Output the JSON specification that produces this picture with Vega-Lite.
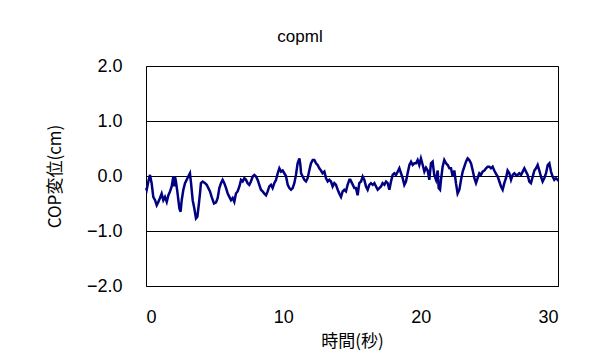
{
  "$schema": "https://vega.github.io/schema/vega-lite/v6.json",
  "width": 412,
  "height": 220,
  "autosize": {"type": "none"},
  "padding": {"left": 146, "top": 66, "right": 37, "bottom": 67},
  "background": "white",
  "title": {"text": "copml", "fontSize": 17, "font": "Liberation Sans", "fontWeight": "normal", "color": "black", "dx": -52, "offset": 11},
  "config": {"view": {"stroke": "black", "strokeWidth": 1}, "font": "Liberation Sans"},
  "data": {"values": [
    {"t": 0.00, "v": -0.22}, {"t": 0.05, "v": -0.25}, {"t": 0.17, "v": -0.10}, {"t": 0.29, "v": 0.02}, {"t": 0.41, "v": -0.13},
    {"t": 0.53, "v": -0.38}, {"t": 0.66, "v": -0.44}, {"t": 0.78, "v": -0.53}, {"t": 0.90, "v": -0.47}, {"t": 1.02, "v": -0.40},
    {"t": 1.14, "v": -0.32}, {"t": 1.26, "v": -0.44}, {"t": 1.38, "v": -0.38}, {"t": 1.51, "v": -0.47}, {"t": 1.63, "v": -0.35},
    {"t": 1.75, "v": -0.28}, {"t": 1.87, "v": -0.19}, {"t": 1.99, "v": -0.01}, {"t": 2.06, "v": -0.19}, {"t": 2.11, "v": -0.01},
    {"t": 2.18, "v": -0.10}, {"t": 2.28, "v": -0.28}, {"t": 2.43, "v": -0.59}, {"t": 2.52, "v": -0.65}, {"t": 2.60, "v": -0.44},
    {"t": 2.72, "v": -0.25}, {"t": 2.84, "v": -0.13}, {"t": 2.96, "v": -0.07}, {"t": 3.08, "v": -0.01}, {"t": 3.20, "v": 0.05},
    {"t": 3.28, "v": -0.13}, {"t": 3.40, "v": -0.44}, {"t": 3.52, "v": -0.59}, {"t": 3.64, "v": -0.77}, {"t": 3.74, "v": -0.74},
    {"t": 3.84, "v": -0.53}, {"t": 3.93, "v": -0.32}, {"t": 4.00, "v": -0.13}, {"t": 4.13, "v": -0.10}, {"t": 4.30, "v": -0.13},
    {"t": 4.42, "v": -0.16}, {"t": 4.54, "v": -0.22}, {"t": 4.66, "v": -0.28}, {"t": 4.78, "v": -0.38}, {"t": 4.95, "v": -0.50},
    {"t": 5.10, "v": -0.48}, {"t": 5.22, "v": -0.40}, {"t": 5.34, "v": -0.22}, {"t": 5.46, "v": -0.13}, {"t": 5.58, "v": -0.07},
    {"t": 5.70, "v": -0.13}, {"t": 5.83, "v": -0.22}, {"t": 5.95, "v": -0.32}, {"t": 6.07, "v": -0.38}, {"t": 6.19, "v": -0.44},
    {"t": 6.31, "v": -0.40}, {"t": 6.43, "v": -0.47}, {"t": 6.55, "v": -0.32}, {"t": 6.67, "v": -0.28}, {"t": 6.80, "v": -0.19},
    {"t": 6.92, "v": -0.07}, {"t": 7.04, "v": -0.10}, {"t": 7.16, "v": -0.04}, {"t": 7.28, "v": -0.07}, {"t": 7.40, "v": -0.13},
    {"t": 7.52, "v": -0.16}, {"t": 7.64, "v": -0.10}, {"t": 7.77, "v": -0.01}, {"t": 7.89, "v": 0.02}, {"t": 8.01, "v": -0.01},
    {"t": 8.13, "v": -0.07}, {"t": 8.25, "v": -0.16}, {"t": 8.37, "v": -0.25}, {"t": 8.49, "v": -0.28}, {"t": 8.62, "v": -0.32},
    {"t": 8.74, "v": -0.35}, {"t": 8.86, "v": -0.28}, {"t": 8.98, "v": -0.19}, {"t": 9.10, "v": -0.16}, {"t": 9.22, "v": -0.22},
    {"t": 9.34, "v": -0.13}, {"t": 9.47, "v": -0.07}, {"t": 9.59, "v": 0.05}, {"t": 9.71, "v": 0.14}, {"t": 9.83, "v": 0.08},
    {"t": 9.95, "v": 0.10}, {"t": 10.07, "v": 0.05}, {"t": 10.19, "v": 0.00}, {"t": 10.32, "v": -0.16}, {"t": 10.44, "v": -0.22},
    {"t": 10.56, "v": -0.25}, {"t": 10.68, "v": -0.22}, {"t": 10.80, "v": -0.13}, {"t": 10.92, "v": 0.02}, {"t": 11.04, "v": 0.23},
    {"t": 11.17, "v": 0.32}, {"t": 11.24, "v": 0.20}, {"t": 11.29, "v": 0.05}, {"t": 11.41, "v": -0.01}, {"t": 11.53, "v": -0.07},
    {"t": 11.65, "v": -0.10}, {"t": 11.77, "v": -0.04}, {"t": 11.89, "v": 0.10}, {"t": 12.01, "v": 0.23}, {"t": 12.14, "v": 0.29},
    {"t": 12.26, "v": 0.29}, {"t": 12.38, "v": 0.23}, {"t": 12.50, "v": 0.20}, {"t": 12.62, "v": 0.14}, {"t": 12.74, "v": 0.10},
    {"t": 12.86, "v": 0.05}, {"t": 12.99, "v": 0.08}, {"t": 13.11, "v": -0.04}, {"t": 13.23, "v": -0.10}, {"t": 13.35, "v": -0.07},
    {"t": 13.47, "v": -0.10}, {"t": 13.59, "v": -0.19}, {"t": 13.71, "v": -0.13}, {"t": 13.83, "v": -0.16}, {"t": 13.96, "v": -0.25},
    {"t": 14.08, "v": -0.32}, {"t": 14.20, "v": -0.38}, {"t": 14.32, "v": -0.28}, {"t": 14.44, "v": -0.25}, {"t": 14.56, "v": -0.28},
    {"t": 14.68, "v": -0.16}, {"t": 14.81, "v": -0.07}, {"t": 14.88, "v": -0.07}, {"t": 15.00, "v": -0.13}, {"t": 15.17, "v": -0.22},
    {"t": 15.29, "v": -0.22}, {"t": 15.41, "v": -0.35}, {"t": 15.53, "v": -0.13}, {"t": 15.66, "v": -0.10}, {"t": 15.78, "v": -0.01},
    {"t": 15.90, "v": -0.07}, {"t": 16.02, "v": -0.19}, {"t": 16.14, "v": -0.25}, {"t": 16.26, "v": -0.16}, {"t": 16.38, "v": -0.13},
    {"t": 16.51, "v": -0.16}, {"t": 16.63, "v": -0.13}, {"t": 16.75, "v": -0.19}, {"t": 16.87, "v": -0.25}, {"t": 16.99, "v": -0.22},
    {"t": 17.11, "v": -0.19}, {"t": 17.23, "v": -0.13}, {"t": 17.36, "v": -0.16}, {"t": 17.48, "v": -0.10}, {"t": 17.60, "v": -0.13},
    {"t": 17.72, "v": -0.25}, {"t": 17.84, "v": -0.10}, {"t": 17.96, "v": 0.02}, {"t": 18.08, "v": 0.05}, {"t": 18.20, "v": 0.02},
    {"t": 18.33, "v": 0.08}, {"t": 18.45, "v": 0.14}, {"t": 18.57, "v": 0.05}, {"t": 18.69, "v": -0.04}, {"t": 18.81, "v": -0.16},
    {"t": 18.93, "v": -0.10}, {"t": 19.05, "v": 0.05}, {"t": 19.18, "v": 0.20}, {"t": 19.30, "v": 0.26}, {"t": 19.42, "v": 0.20},
    {"t": 19.54, "v": 0.23}, {"t": 19.66, "v": 0.23}, {"t": 19.78, "v": 0.29}, {"t": 19.90, "v": 0.20}, {"t": 20.02, "v": 0.32},
    {"t": 20.15, "v": 0.20}, {"t": 20.27, "v": 0.08}, {"t": 20.39, "v": 0.15}, {"t": 20.51, "v": 0.10}, {"t": 20.63, "v": -0.07},
    {"t": 20.75, "v": 0.23}, {"t": 20.87, "v": 0.26}, {"t": 20.99, "v": 0.02}, {"t": 21.12, "v": -0.07}, {"t": 21.24, "v": 0.10},
    {"t": 21.31, "v": -0.22}, {"t": 21.41, "v": -0.25}, {"t": 21.48, "v": -0.07}, {"t": 21.60, "v": 0.17}, {"t": 21.72, "v": 0.29},
    {"t": 21.85, "v": 0.23}, {"t": 21.97, "v": 0.20}, {"t": 22.09, "v": 0.14}, {"t": 22.21, "v": 0.14}, {"t": 22.33, "v": -0.01},
    {"t": 22.45, "v": 0.10}, {"t": 22.57, "v": -0.13}, {"t": 22.69, "v": -0.32}, {"t": 22.82, "v": -0.25}, {"t": 22.94, "v": -0.07},
    {"t": 23.06, "v": 0.08}, {"t": 23.18, "v": 0.17}, {"t": 23.30, "v": 0.26}, {"t": 23.42, "v": 0.32}, {"t": 23.54, "v": 0.29},
    {"t": 23.67, "v": 0.23}, {"t": 23.79, "v": 0.10}, {"t": 23.91, "v": -0.04}, {"t": 24.03, "v": -0.13}, {"t": 24.15, "v": -0.04},
    {"t": 24.27, "v": 0.05}, {"t": 24.39, "v": 0.02}, {"t": 24.51, "v": 0.08}, {"t": 24.64, "v": 0.10}, {"t": 24.76, "v": 0.14},
    {"t": 24.88, "v": 0.17}, {"t": 25.00, "v": 0.17}, {"t": 25.12, "v": 0.14}, {"t": 25.24, "v": 0.17}, {"t": 25.36, "v": 0.10},
    {"t": 25.49, "v": 0.04}, {"t": 25.61, "v": -0.01}, {"t": 25.73, "v": -0.10}, {"t": 25.85, "v": -0.19}, {"t": 25.97, "v": -0.25},
    {"t": 26.09, "v": -0.13}, {"t": 26.21, "v": -0.04}, {"t": 26.33, "v": 0.10}, {"t": 26.46, "v": 0.05}, {"t": 26.58, "v": -0.07},
    {"t": 26.70, "v": 0.02}, {"t": 26.82, "v": 0.05}, {"t": 26.94, "v": 0.02}, {"t": 27.06, "v": 0.02}, {"t": 27.18, "v": 0.05},
    {"t": 27.31, "v": 0.02}, {"t": 27.43, "v": 0.08}, {"t": 27.55, "v": 0.14}, {"t": 27.67, "v": 0.08}, {"t": 27.79, "v": 0.02},
    {"t": 27.91, "v": -0.10}, {"t": 28.03, "v": -0.13}, {"t": 28.16, "v": -0.01}, {"t": 28.28, "v": 0.10}, {"t": 28.40, "v": 0.14},
    {"t": 28.52, "v": 0.20}, {"t": 28.64, "v": 0.10}, {"t": 28.76, "v": -0.01}, {"t": 28.88, "v": -0.10}, {"t": 29.00, "v": -0.04},
    {"t": 29.13, "v": 0.05}, {"t": 29.25, "v": 0.20}, {"t": 29.37, "v": 0.23}, {"t": 29.49, "v": 0.08}, {"t": 29.61, "v": -0.01},
    {"t": 29.73, "v": -0.07}, {"t": 29.85, "v": -0.04}, {"t": 29.97, "v": -0.07}, {"t": 30.00, "v": -0.05}
  ]},
  "mark": {"type": "line", "color": "#000080", "strokeWidth": 2.5},
  "encoding": {
    "x": {
      "field": "t", "type": "quantitative",
      "scale": {"domain": [0, 30], "nice": false},
      "axis": {
        "values": [0, 10, 20, 30], "title": "時間(秒)", "grid": false, "ticks": false, "domain": false,
        "labelFontSize": 18, "labelPadding": 22, "labelColor": "black", "labelFont": "Liberation Sans",
        "titleFontSize": 17, "titleFont": "Noto Sans CJK JP", "titleFontWeight": "normal", "titlePadding": 7, "titleColor": "black"
      }
    },
    "y": {
      "field": "v", "type": "quantitative",
      "scale": {"domain": [-2, 2], "nice": false},
      "axis": {
        "values": [-2, -1, 0, 1, 2], "format": ".1f", "title": "COP変位(cm)",
        "grid": true, "gridColor": "black", "gridOpacity": 1, "gridWidth": 1,
        "ticks": false, "domain": false,
        "labelFontSize": 18, "labelPadding": 24, "labelColor": "black", "labelFont": "Liberation Sans",
        "titleFontSize": 17, "titleFont": "Noto Sans CJK JP", "titleFontWeight": "normal", "titlePadding": 22, "titleColor": "black"
      }
    }
  }
}
